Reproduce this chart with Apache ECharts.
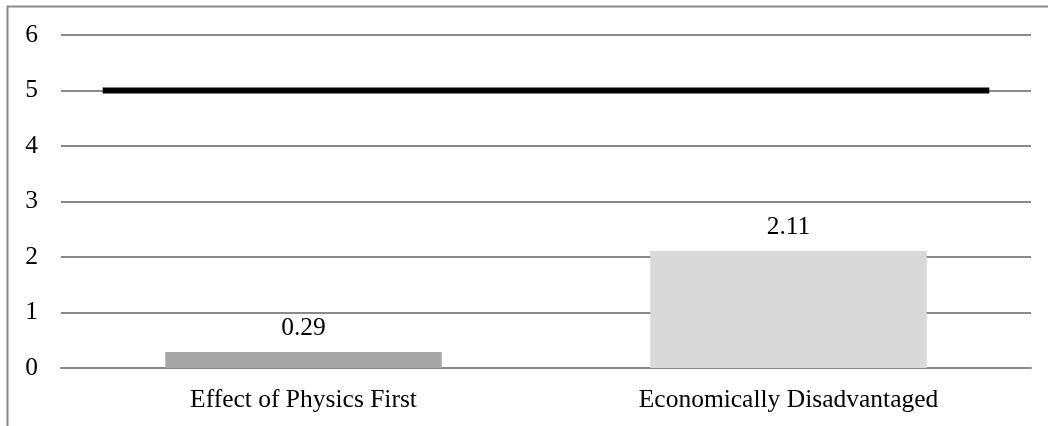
<!DOCTYPE html>
<html>
<head>
<meta charset="utf-8">
<script src="https://cdn.jsdelivr.net/npm/echarts@6/dist/echarts.min.js"></script>
<style>
html, body { margin: 0; padding: 0; background: #fff; }
#chart { width: 1048px; height: 426px; }
</style>
</head>
<body>
<div id="chart"></div>
<script>
// categories and values
var categories = ['Effect of Physics First', 'Economically Disadvantaged'];
var barValues = [0.29, 2.11];
var barColors = ['#a6a6a6', '#d9d9d9'];
var yTicks = [0, 1, 2, 3, 4, 5, 6];
// reference line at 5, spanning most of the plot
var refLevel = 5;
var refSpan = [0.043, 0.957];

var myChart = echarts.init(document.getElementById('chart'));
var font = 'Liberation Serif';
var option = {
	animation: false,
	graphic: [{
		type: 'rect',
		shape: { x: 7.5, y: 6.5, width: 1100, height: 500 },
		style: { fill: 'none', stroke: '#8a8a8a', lineWidth: 2 },
		silent: true
	}],
	grid: {
		left: 61,
		right: 17,
		top: 35,
		bottom: 58
	},
	xAxis: [{
		type: 'category',
		data: categories,
		axisLine: { show: true, lineStyle: { color: '#8a8a8a', width: 2 } },
		axisTick: { show: false },
		axisLabel: {
			color: '#000',
			fontFamily: font,
			fontSize: 25.5,
			margin: 19
		}
	}, {
		type: 'value',
		min: 0,
		max: 1,
		show: false
	}],
	yAxis: {
		type: 'value',
		min: yTicks[0],
		max: yTicks[yTicks.length - 1],
		interval: 1,
		axisLine: { show: false },
		axisTick: { show: false },
		splitLine: { lineStyle: { color: '#8a8a8a', width: 2 } },
		axisLabel: {
			color: '#000',
			fontFamily: font,
			fontSize: 25.5,
			margin: 23
		}
	},
	series: [{
		type: 'bar',
		barWidth: '57%',
		data: barValues.map(function(v, i) {
			return { value: v, itemStyle: { color: barColors[i] } };
		}),
		label: {
			show: true,
			position: 'top',
			distance: 11,
			color: '#000',
			fontFamily: font,
			fontSize: 25.5
		}
	}, {
		type: 'line',
		xAxisIndex: 1,
		data: [[refSpan[0], refLevel], [refSpan[1], refLevel]],
		symbol: 'none',
		lineStyle: { color: '#000', width: 6, cap: 'butt' },
		z: 5
	}]
};
myChart.setOption(option);
</script>
</body>
</html>
